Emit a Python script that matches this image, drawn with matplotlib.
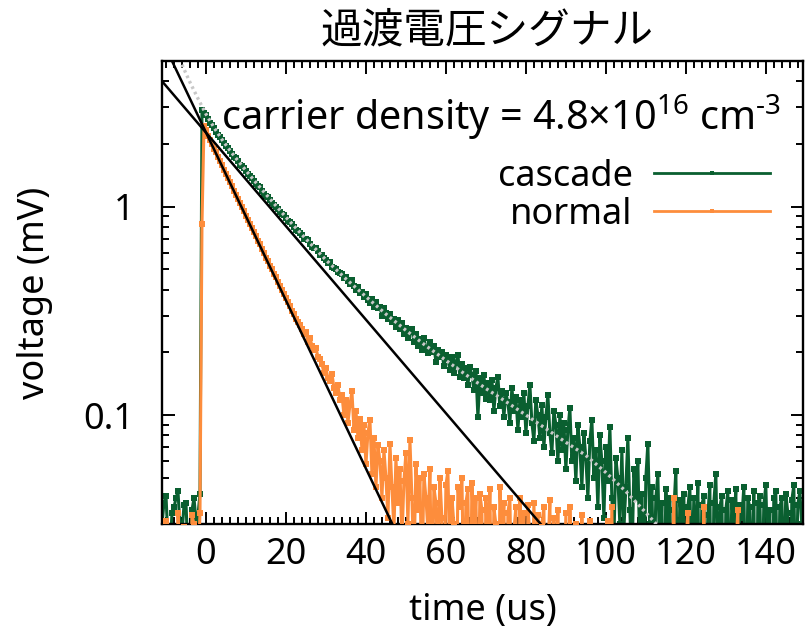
import numpy as np
import matplotlib
matplotlib.use("Agg")
import matplotlib.pyplot as plt
from matplotlib.ticker import MultipleLocator, LogLocator, FuncFormatter, NullFormatter

plt.rcParams["font.family"] = ["Noto Sans", "Noto Sans CJK JP", "DejaVu Sans"]
plt.rcParams["mathtext.fontset"] = "custom"
plt.rcParams["mathtext.rm"] = "Noto Sans"
plt.rcParams["mathtext.it"] = "Noto Sans"

# ---- data -------------------------------------------------------------
time_us = np.arange(-11, 149.5, 0.5)  # 0.5 us sampling, -11 .. 149

cascade_mv = [
    0.030, 0.038, 0.041, 0.025, 0.022, 0.034, 0.036, 0.040, 0.043, 0.029,   # -11.0 .. -6.5
    0.027, 0.037, 0.038, 0.021, 0.019, 0.035, 0.040, 0.031, 0.033, 0.042,   # -6.0 .. -1.5
    2.90, 2.83, 2.76, 2.63, 2.53, 2.46, 2.38, 2.28, 2.21, 2.16,             # -1.0 .. 3.5
    2.09, 2.01, 1.95, 1.91, 1.85, 1.78, 1.74, 1.71, 1.65, 1.59,             # 4.0 .. 8.5
    1.56, 1.53, 1.48, 1.43, 1.40, 1.37, 1.33, 1.28, 1.26, 1.24,             # 9.0 .. 13.5
    1.19, 1.15, 1.13, 1.11, 1.08, 1.04, 1.02, 1.00, 0.97, 0.94,             # 14.0 .. 18.5
    0.92, 0.91, 0.88, 0.85, 0.84, 0.83, 0.80, 0.77, 0.765, 0.75,           # 19.0 .. 23.5
    0.73, 0.70, 0.70, 0.69, 0.665, 0.64, 0.635, 0.63, 0.61, 0.585,         # 24.0 .. 28.5
    0.585, 0.57, 0.555, 0.535, 0.54, 0.515, 0.51, 0.50, 0.485, 0.48,       # 29.0 .. 33.5
    0.475, 0.455, 0.46, 0.44, 0.425, 0.445, 0.415, 0.40, 0.41, 0.385,      # 34.0 .. 38.5
    0.39, 0.37, 0.38, 0.355, 0.345, 0.36, 0.33, 0.35, 0.325, 0.33,         # 39.0 .. 43.5
    0.30, 0.325, 0.31, 0.29, 0.305, 0.28, 0.29, 0.265, 0.285, 0.26,        # 44.0 .. 48.5
    0.275, 0.245, 0.262, 0.235, 0.25, 0.258, 0.225, 0.245, 0.215, 0.232,   # 49.0 .. 53.5
    0.205, 0.235, 0.21, 0.198, 0.225, 0.20, 0.215, 0.18, 0.205, 0.19,      # 54.0 .. 58.5
    0.20, 0.172, 0.195, 0.185, 0.165, 0.19, 0.16, 0.178, 0.195, 0.152,     # 59.0 .. 63.5
    0.175, 0.15, 0.168, 0.14, 0.17, 0.155, 0.132, 0.162, 0.098, 0.15,      # 64.0 .. 68.5
    0.128, 0.155, 0.12, 0.142, 0.118, 0.148, 0.105, 0.135, 0.152, 0.11,    # 69.0 .. 73.5
    0.13, 0.098, 0.128, 0.115, 0.092, 0.135, 0.105, 0.122, 0.085, 0.118,   # 74.0 .. 78.5
    0.098, 0.128, 0.082, 0.11, 0.14, 0.092, 0.075, 0.118, 0.10, 0.078,     # 79.0 .. 83.5
    0.112, 0.07, 0.098, 0.125, 0.082, 0.066, 0.105, 0.09, 0.06, 0.10,      # 84.0 .. 88.5
    0.068, 0.092, 0.055, 0.085, 0.108, 0.06, 0.078, 0.048, 0.09, 0.07,     # 89.0 .. 93.5
    0.045, 0.082, 0.062, 0.04, 0.075, 0.095, 0.05, 0.068, 0.036, 0.08,     # 94.0 .. 98.5
    0.06, 0.032, 0.07, 0.048, 0.088, 0.04, 0.025, 0.062, 0.05, 0.03,       # 99.0 .. 103.5
    0.068, 0.028, 0.045, 0.078, 0.035, 0.018, 0.055, 0.04, 0.06, 0.022,    # 104.0 .. 108.5
    0.042, 0.012, 0.05, 0.073, 0.03, 0.045, 0.015, 0.04, 0.052, 0.02,      # 109.0 .. 113.5
    0.038, 0.008, 0.044, 0.028, 0.04, 0.012, 0.035, 0.054, 0.01, 0.039,    # 114.0 .. 118.5
    0.03, 0.042, 0.006, 0.036, 0.045, 0.015, 0.04, 0.022, 0.047, 0.008,    # 119.0 .. 123.5
    0.037, 0.041, 0.01, 0.033, 0.046, 0.005, 0.038, 0.052, 0.018, 0.036,   # 124.0 .. 128.5
    0.041, 0.007, 0.035, 0.043, 0.012, 0.039, 0.028, 0.044, 0.006, 0.037,  # 129.0 .. 133.5
    0.032, 0.045, 0.009, 0.04, 0.036, 0.014, 0.043, 0.004, 0.038, 0.041,   # 134.0 .. 138.5
    0.012, 0.037, 0.046, 0.02, 0.035, 0.008, 0.04, 0.043, 0.01, 0.036,     # 139.0 .. 143.5
    0.04, 0.015, 0.042, 0.034, 0.006, 0.039, 0.046, 0.012, 0.037, 0.043,   # 144.0 .. 148.5
    0.03,                                                                  # 149.0
]

normal_mv = [
    0.020, 0.012, 0.031, 0.018, 0.012, 0.026, 0.027, 0.010, 0.034, 0.021,   # -11.0 .. -6.5
    0.015, 0.029, 0.024, 0.008, 0.012, 0.033, 0.030, 0.022, 0.018, 0.034,   # -6.0 .. -1.5
    0.83, 2.45, 2.32, 2.19, 2.09, 1.99, 1.90, 1.82, 1.73, 1.66,             # -1.0 .. 3.5
    1.58, 1.50, 1.44, 1.37, 1.31, 1.26, 1.195, 1.14, 1.09, 1.04,           # 4.0 .. 8.5
    0.995, 0.95, 0.905, 0.865, 0.825, 0.79, 0.755, 0.72, 0.685, 0.66,      # 9.0 .. 13.5
    0.625, 0.60, 0.57, 0.55, 0.52, 0.50, 0.475, 0.46, 0.435, 0.415,        # 14.0 .. 18.5
    0.40, 0.38, 0.365, 0.35, 0.335, 0.315, 0.305, 0.29, 0.28, 0.27,        # 19.0 .. 23.5
    0.26, 0.245, 0.25, 0.225, 0.235, 0.215, 0.205, 0.21, 0.19, 0.185,      # 24.0 .. 28.5
    0.175, 0.16, 0.168, 0.15, 0.145, 0.158, 0.135, 0.128, 0.14, 0.118,     # 29.0 .. 33.5
    0.125, 0.10, 0.118, 0.092, 0.112, 0.13, 0.085, 0.105, 0.078, 0.096,    # 34.0 .. 38.5
    0.068, 0.09, 0.058, 0.082, 0.095, 0.052, 0.078, 0.045, 0.072, 0.06,    # 39.0 .. 43.5
    0.04, 0.068, 0.05, 0.032, 0.073, 0.045, 0.028, 0.062, 0.038, 0.055,    # 44.0 .. 48.5
    0.025, 0.048, 0.066, 0.03, 0.076, 0.04, 0.018, 0.058, 0.035, 0.05,     # 49.0 .. 53.5
    0.015, 0.052, 0.04, 0.028, 0.055, 0.012, 0.045, 0.038, 0.02, 0.05,     # 54.0 .. 58.5
    0.032, 0.01, 0.046, 0.054, 0.018, 0.04, 0.03, 0.008, 0.045, 0.036,     # 59.0 .. 63.5
    0.05, 0.012, 0.038, 0.044, 0.006, 0.047, 0.025, 0.04, 0.01, 0.042,     # 64.0 .. 68.5
    0.035, 0.005, 0.04, 0.02, 0.044, 0.008, 0.036, 0.03, 0.004, 0.045,     # 69.0 .. 73.5
    0.025, 0.038, 0.006, 0.034, 0.04, 0.01, 0.028, 0.036, 0.004, 0.04,     # 74.0 .. 78.5
    0.018, 0.034, 0.005, 0.037, 0.026, 0.008, 0.038, 0.015, 0.033, 0.004,  # 79.0 .. 83.5
    0.03, 0.036, 0.006, 0.022, 0.039, 0.004, 0.032, 0.012, 0.035, 0.003,   # 84.0 .. 88.5
    0.028, 0.01, 0.034, 0.004, 0.036, 0.015, 0.003, 0.03, 0.022, 0.004,    # 89.0 .. 93.5
    0.033, 0.006, 0.025, 0.003, 0.031, 0.012, 0.004, 0.028, 0.005, 0.02,   # 94.0 .. 98.5
    0.004, 0.026, 0.003, 0.031, 0.008, 0.036, 0.004, 0.022, 0.003, 0.025,  # 99.0 .. 103.5
    0.006, 0.027, 0.003, 0.018, 0.004, 0.024, 0.003, 0.02, 0.005, 0.026,   # 104.0 .. 108.5
    0.003, 0.018, 0.004, 0.022, 0.003, 0.016, 0.005, 0.024, 0.003, 0.02,   # 109.0 .. 113.5
    0.004, 0.028, 0.003, 0.02, 0.005, 0.015, 0.04, 0.004, 0.022, 0.003,    # 114.0 .. 118.5
    0.02, 0.004, 0.024, 0.034, 0.003, 0.018, 0.005, 0.021, 0.003, 0.016,   # 119.0 .. 123.5
    0.004, 0.036, 0.003, 0.02, 0.004, 0.018, 0.003, 0.024, 0.006, 0.018,  # 124.0 .. 128.5
    0.003, 0.025, 0.004, 0.02, 0.003, 0.016, 0.005, 0.022, 0.035, 0.003,  # 129.0 .. 133.5
    0.018, 0.004, 0.02, 0.003, 0.024, 0.005, 0.017, 0.003, 0.021, 0.004,  # 134.0 .. 138.5
    0.02, 0.003, 0.018, 0.005, 0.027, 0.003, 0.019, 0.004, 0.018, 0.003,  # 139.0 .. 143.5
    0.022, 0.004, 0.017, 0.003, 0.022, 0.005, 0.02, 0.003, 0.019, 0.004,  # 144.0 .. 148.5
    0.024,                                                                 # 149.0
]

# single-exponential fits (straight on the log axis), given by two points each
fit_normal_t = [-8.5, 46.6]
fit_normal_v = [5.0, 0.03]
fit_cascade_t = [-11.0, 83.7]
fit_cascade_v = [4.0, 0.03]

# multi-exponential fit curve through the cascade trace
fit_multi_t = [-6, -4, -2, 0, 2, 4, 6, 8, 10, 13, 16, 20, 25, 30, 35, 40, 45,
               50, 55, 60, 65, 70, 75, 80, 85, 90, 95, 100, 105, 110, 114]
fit_multi_v = [4.8, 3.95, 3.3, 2.78, 2.40, 2.10, 1.86, 1.66, 1.49, 1.27, 1.09,
               0.89, 0.70, 0.555, 0.45, 0.37, 0.305, 0.255, 0.215, 0.183, 0.156,
               0.134, 0.116, 0.100, 0.086, 0.074, 0.064, 0.053, 0.043, 0.034, 0.028]

series_labels = ["cascade", "normal"]
title_text = "過渡電圧シグナル"
note_text = "carrier density = 4.8$\\times$10$^{16}$ cm$^{\u20103}$"

GREEN = "#0a5f30"
ORANGE = "#fd8d3c"

# ---- figure -----------------------------------------------------------
fig = plt.figure(figsize=(8.06, 6.33), dpi=100)
ax = fig.add_axes([162 / 806, 1 - 524 / 633, (803 - 162) / 806, (524 - 61) / 633])
ax.set_yscale("log", nonpositive="clip")

l_casc, = ax.plot(time_us, cascade_mv, "-", color=GREEN, lw=2.2,
                  marker="s", ms=4.2, mew=0, zorder=2, label=series_labels[0])
ax.plot(fit_multi_t, fit_multi_v, color="#c8c8c8", lw=2.4, ls=(0, (0.8, 1.0)), zorder=3)
l_norm, = ax.plot(time_us, normal_mv, "-", color=ORANGE, lw=2.2,
                  marker="s", ms=4.2, mew=0, zorder=4, label=series_labels[1])
ax.plot(fit_normal_t, fit_normal_v, color="black", lw=1.8, zorder=5)
ax.plot(fit_cascade_t, fit_cascade_v, color="black", lw=1.8, zorder=5)

ax.set_xlim(-11, 149.3)
ax.set_ylim(0.03, 5.0)

ax.xaxis.set_major_locator(MultipleLocator(20))
ax.xaxis.set_minor_locator(MultipleLocator(2))
ax.yaxis.set_major_locator(LogLocator(base=10, numticks=10))
ax.yaxis.set_minor_locator(LogLocator(base=10, subs=np.arange(2, 10), numticks=20))
ax.yaxis.set_major_formatter(FuncFormatter(lambda v, _: f"{v:g}"))
ax.yaxis.set_minor_formatter(NullFormatter())

ax.tick_params(which="both", direction="in", top=True, right=True, width=1.4,
               labelsize=26)
ax.tick_params(which="major", length=9)
ax.tick_params(which="minor", length=5)
ax.tick_params(axis="x", which="major", pad=9)
ax.tick_params(axis="y", which="major", pad=20)
for s in ax.spines.values():
    s.set_linewidth(1.7)

ax.set_xlabel("time (us)", fontsize=26)
ax.xaxis.label.set_va("center")
ax.xaxis.set_label_coords(0.5, (524 - 611) / 463)
ax.set_ylabel("voltage (mV)", fontsize=26)
ax.yaxis.label.set_va("center")
ax.yaxis.set_label_coords((35 - 162) / 641, (524 - 293) / 463)

fig.text(487 / 806, 1 - 31 / 633, title_text, fontsize=30, ha="center", va="center")
ax.text((781 - 162) / 641, (524 - 117) / 463, note_text, transform=ax.transAxes,
        fontsize=28.5, ha="right", va="center")

leg = ax.legend(handles=[l_casc, l_norm], loc="center right",
                bbox_to_anchor=((770 - 162) / 641, (524 - 196) / 463),
                frameon=False, markerfirst=False, fontsize=26,
                handlelength=3.2, handletextpad=0.6, labelspacing=0.05,
                borderpad=0, borderaxespad=0, numpoints=1)
for h in leg.legend_handles:
    h.set_linewidth(2.0)
    h.set_markersize(3)

fig.savefig("out.png", dpi=100)
